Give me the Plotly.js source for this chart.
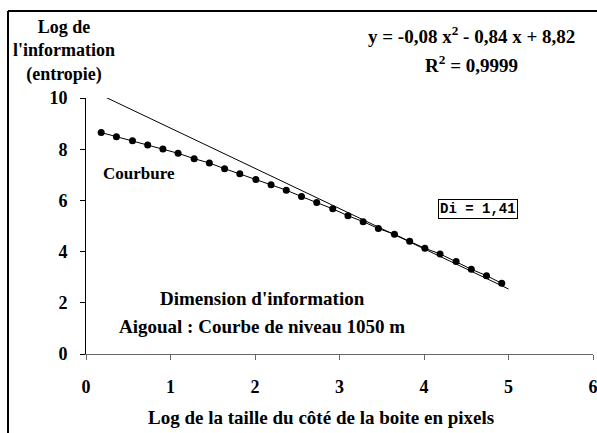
<!DOCTYPE html>
<html>
<head>
<meta charset="utf-8">
<script src="https://cdn.plot.ly/plotly-3.0.1.min.js"></script>
<style>html,body{margin:0;padding:0;background:#fff;} #chart{width:597px;height:433px;}</style>
</head>
<body>
<div id="chart"></div>
<script>
// Log of box side size (pixels)
const logSize = [0.18, 0.36, 0.55, 0.73, 0.91, 1.09, 1.28, 1.46, 1.64, 1.82, 2.01, 2.19, 2.37, 2.55,
                 2.73, 2.92, 3.10, 3.28, 3.46, 3.65, 3.83, 4.01, 4.19, 4.38, 4.56, 4.74, 4.92];
// Log of information (entropy)
const logInfo = [8.65, 8.49, 8.33, 8.16, 8.01, 7.84, 7.63, 7.46, 7.24, 7.04, 6.82, 6.61, 6.40, 6.15,
                 5.92, 5.67, 5.40, 5.17, 4.90, 4.68, 4.40, 4.13, 3.91, 3.61, 3.31, 3.06, 2.76];
// Straight reference line (end points)
const lineX = [0.2, 5.0];
const lineY = [10.08, 2.54];
const xTicks = [0, 1, 2, 3, 4, 5, 6];
const yTicks = [0, 2, 4, 6, 8, 10];

const serif = "Liberation Serif, Times New Roman, serif";
const mono = "Liberation Mono, Courier New, monospace";

const traces = [
  {x: lineX, y: lineY, type: 'scatter', mode: 'lines',
   line: {color: '#000', width: 1}, hoverinfo: 'skip', showlegend: false},
  {x: logSize, y: logInfo, type: 'scatter', mode: 'lines+markers',
   line: {color: '#000', width: 1}, marker: {color: '#000', size: 7},
   showlegend: false}
];

const W = 507, H = 256;
const px = v => (v - 86) / W;
const py = v => (354 - v) / H;

const layout = {
  width: 597, height: 433,
  margin: {l: 86, r: 4, t: 98, b: 79, pad: 0},
  paper_bgcolor: '#fff', plot_bgcolor: '#fff',
  showlegend: false,
  xaxis: {range: [0, 6], tickvals: xTicks, ticktext: xTicks.map(String),
          showgrid: false, zeroline: false, showline: true, linecolor: '#666', linewidth: 1,
          ticks: 'outside', ticklen: 5, tickcolor: '#666', tickwidth: 1,
          ticklabelstandoff: 11, ticklabeloverflow: 'allow',
          tickfont: {family: serif, size: 18, color: '#000', weight: 700}},
  yaxis: {range: [0, 10], tickvals: yTicks, ticktext: yTicks.map(String),
          showgrid: false, zeroline: false, showline: true, linecolor: '#000', linewidth: 1,
          ticks: 'outside', ticklen: 5, tickcolor: '#000', tickwidth: 1,
          ticklabelstandoff: 9, ticklabeloverflow: 'allow',
          tickfont: {family: serif, size: 18, color: '#000', weight: 700}},
  shapes: [
    {type: 'line', xref: 'paper', yref: 'paper', x0: px(8), x1: px(597), y0: py(11), y1: py(11),
     line: {color: '#000', width: 2}},
    {type: 'line', xref: 'paper', yref: 'paper', x0: px(8), x1: px(8), y0: py(11), y1: py(433),
     line: {color: '#000', width: 2}}
  ],
  annotations: [
    {xref: 'paper', yref: 'paper', x: px(64), y: py(51), text: "Log de<br>l'information<br>(entropie)",
     showarrow: false, xanchor: 'center', yanchor: 'middle', align: 'center',
     font: {family: serif, size: 18, color: '#000', weight: 700}},
    {xref: 'paper', yref: 'paper', x: px(321), y: py(417), text: "Log de la taille du côté de la boite en pixels",
     showarrow: false, xanchor: 'center', yanchor: 'middle',
     font: {family: serif, size: 19, color: '#000', weight: 700}},
    {xref: 'paper', yref: 'paper', x: px(471), y: py(35), text: "y = -0,08 x<sup>2</sup> - 0,84 x + 8,82",
     showarrow: false, xanchor: 'center', yanchor: 'middle',
     font: {family: serif, size: 19, color: '#000', weight: 700}},
    {xref: 'paper', yref: 'paper', x: px(471), y: py(64), text: "R<sup>2</sup> = 0,9999",
     showarrow: false, xanchor: 'center', yanchor: 'middle',
     font: {family: serif, size: 19, color: '#000', weight: 700}},
    {xref: 'paper', yref: 'paper', x: px(139), y: py(173), text: "Courbure",
     showarrow: false, xanchor: 'center', yanchor: 'middle',
     font: {family: serif, size: 17, color: '#000', weight: 700}},
    {xref: 'paper', yref: 'paper', x: px(477.5), y: py(209), text: "Di = 1,41",
     showarrow: false, xanchor: 'center', yanchor: 'middle',
     bordercolor: '#000', borderwidth: 1, borderpad: 1, bgcolor: '#fff',
     font: {family: mono, size: 14, color: '#000', weight: 700}},
    {xref: 'paper', yref: 'paper', x: px(262), y: py(298), text: "Dimension d'information",
     showarrow: false, xanchor: 'center', yanchor: 'middle',
     font: {family: serif, size: 19, color: '#000', weight: 700}},
    {xref: 'paper', yref: 'paper', x: px(262), y: py(326), text: "Aigoual : Courbe de niveau 1050 m",
     showarrow: false, xanchor: 'center', yanchor: 'middle',
     font: {family: serif, size: 19, color: '#000', weight: 700}}
  ]
};

Plotly.newPlot('chart', traces, layout, {staticPlot: true, displayModeBar: false});
</script>
</body>
</html>
